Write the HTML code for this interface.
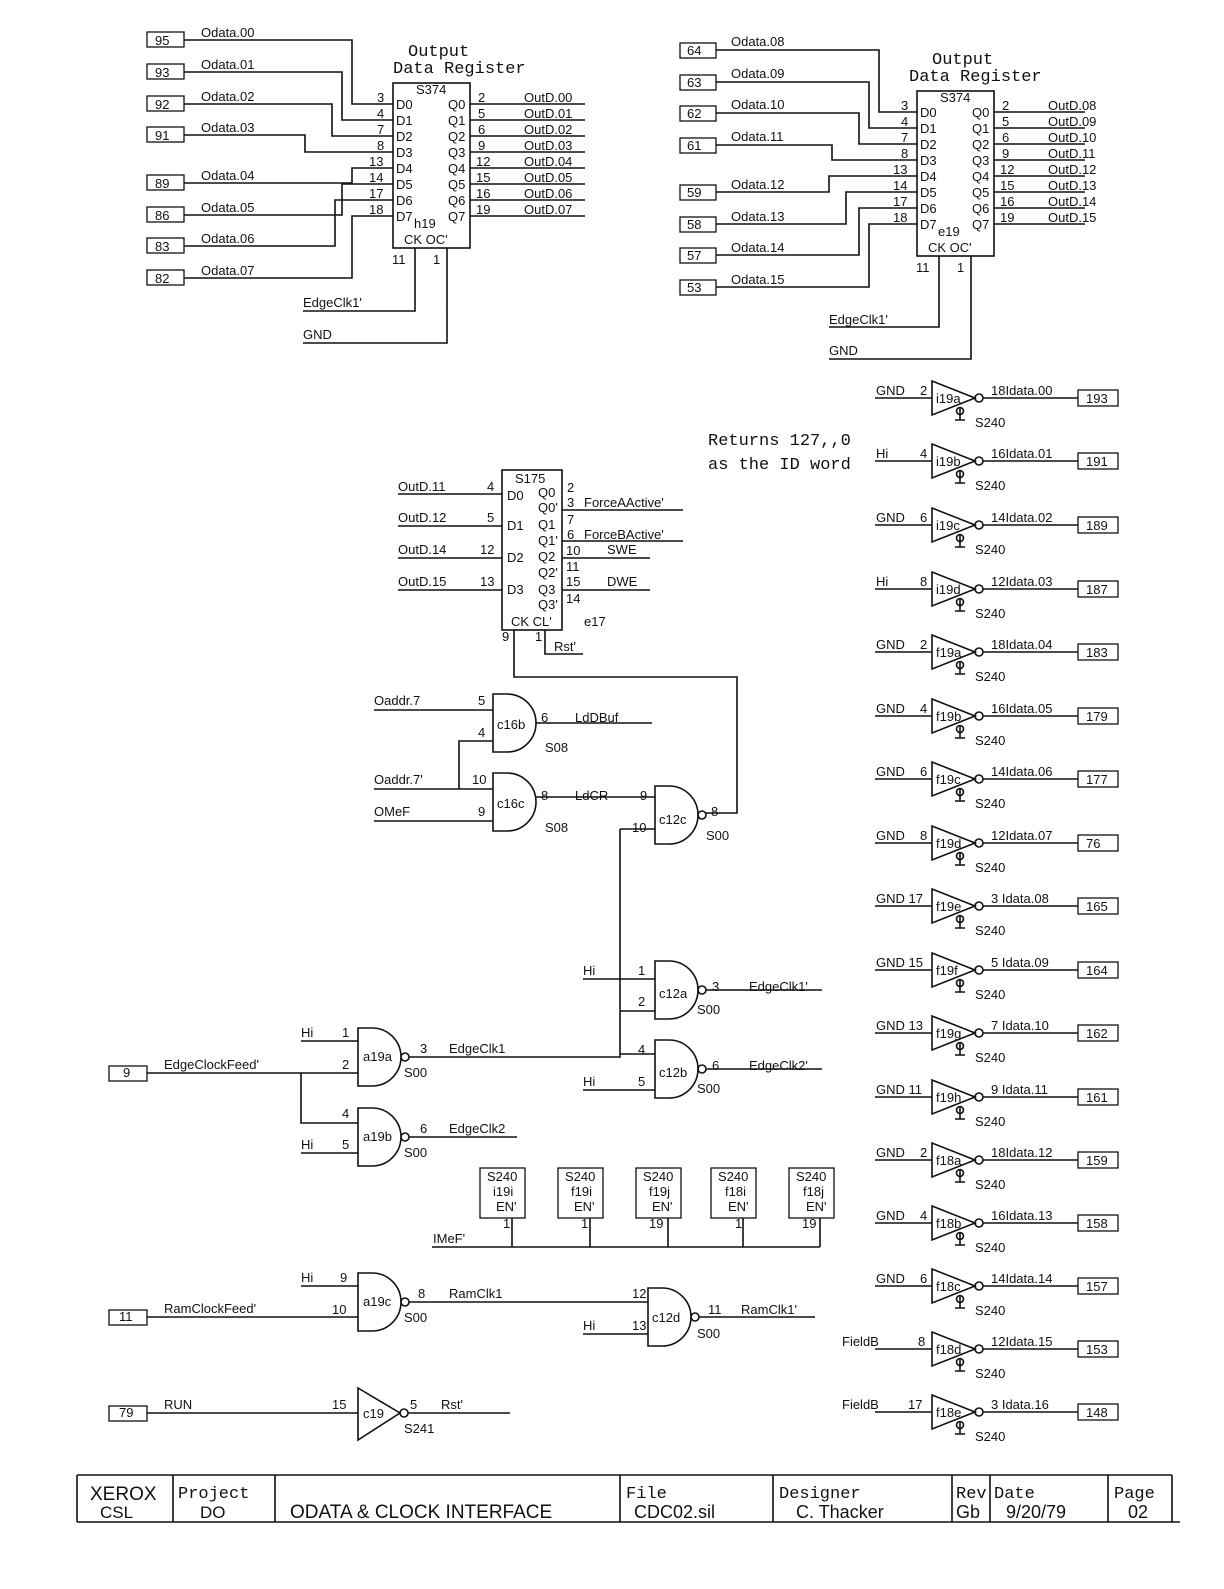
<!DOCTYPE html>
<html><head><meta charset="utf-8"><style>
body{margin:0;background:#fff}
svg text{font-family:"Liberation Sans",sans-serif;font-size:13px;fill:#111}
.m{font-family:"Liberation Mono",monospace;font-size:17px}
</style></head><body>
<svg width="1224" height="1584" viewBox="0 0 1224 1584" xmlns="http://www.w3.org/2000/svg" stroke="#111" stroke-width="1.6" fill="none">
<!-- top-left register -->
<g>
<text class="m" x="408" y="56" stroke="none">Output</text>
<text class="m" x="393" y="73" stroke="none">Data Register</text>
<rect x="393" y="83" width="77" height="165"/>
<text x="416" y="94" stroke="none">S374</text>
<g stroke="none">
<text x="396" y="109">D0</text><text x="396" y="125">D1</text><text x="396" y="141">D2</text><text x="396" y="157">D3</text><text x="396" y="173">D4</text><text x="396" y="189">D5</text><text x="396" y="205">D6</text><text x="396" y="221">D7</text>
<text x="448" y="109">Q0</text><text x="448" y="125">Q1</text><text x="448" y="141">Q2</text><text x="448" y="157">Q3</text><text x="448" y="173">Q4</text><text x="448" y="189">Q5</text><text x="448" y="205">Q6</text><text x="448" y="221">Q7</text>
<text x="414" y="228">h19</text><text x="404" y="244">CK  OC'</text>
<text x="377" y="102">3</text><text x="377" y="118">4</text><text x="377" y="134">7</text><text x="377" y="150">8</text><text x="369" y="166">13</text><text x="369" y="182">14</text><text x="369" y="198">17</text><text x="369" y="214">18</text>
<text x="478" y="102">2</text><text x="478" y="118">5</text><text x="478" y="134">6</text><text x="478" y="150">9</text><text x="476" y="166">12</text><text x="476" y="182">15</text><text x="476" y="198">16</text><text x="476" y="214">19</text>
<text x="524" y="102">OutD.00</text><text x="524" y="118">OutD.01</text><text x="524" y="134">OutD.02</text><text x="524" y="150">OutD.03</text><text x="524" y="166">OutD.04</text><text x="524" y="182">OutD.05</text><text x="524" y="198">OutD.06</text><text x="524" y="214">OutD.07</text>
<text x="392" y="264">11</text><text x="433" y="264">1</text>
<text x="303" y="307">EdgeClk1'</text><text x="303" y="339">GND</text>
</g>
<path d="M470 104H585M470 120H585M470 136H585M470 152H585M470 168H585M470 184H585M470 200H585M470 216H585"/>
<path d="M184 40H352V104H393M184 72H342V120H393M184 104H332V136H393M184 135H305V152H393M184 183H352V168H393M184 215H342V184H393M184 246H335V200H393M184 278H352V216H393"/>
<path d="M415 248V311H303M447 248V343H303"/>
<g stroke-width="1.3"><rect x="147" y="32" width="37" height="15"/><rect x="147" y="64" width="37" height="15"/><rect x="147" y="96" width="37" height="15"/><rect x="147" y="127" width="37" height="15"/><rect x="147" y="175" width="37" height="15"/><rect x="147" y="207" width="37" height="15"/><rect x="147" y="238" width="37" height="15"/><rect x="147" y="270" width="37" height="15"/></g>
<g stroke="none"><text x="155" y="45">95</text><text x="155" y="77">93</text><text x="155" y="109">92</text><text x="155" y="140">91</text><text x="155" y="188">89</text><text x="155" y="220">86</text><text x="155" y="251">83</text><text x="155" y="283">82</text>
<text x="201" y="37">Odata.00</text><text x="201" y="69">Odata.01</text><text x="201" y="101">Odata.02</text><text x="201" y="132">Odata.03</text><text x="201" y="180">Odata.04</text><text x="201" y="212">Odata.05</text><text x="201" y="243">Odata.06</text><text x="201" y="275">Odata.07</text></g>
</g>
<!-- top-right register -->
<g transform="translate(524,8)">
<text class="m" x="408" y="56" stroke="none">Output</text>
<text class="m" x="385" y="73" stroke="none">Data Register</text>
<rect x="393" y="83" width="77" height="165"/>
<g stroke="none">
<text x="416" y="94">S374</text>
<text x="396" y="109">D0</text><text x="396" y="125">D1</text><text x="396" y="141">D2</text><text x="396" y="157">D3</text><text x="396" y="173">D4</text><text x="396" y="189">D5</text><text x="396" y="205">D6</text><text x="396" y="221">D7</text>
<text x="448" y="109">Q0</text><text x="448" y="125">Q1</text><text x="448" y="141">Q2</text><text x="448" y="157">Q3</text><text x="448" y="173">Q4</text><text x="448" y="189">Q5</text><text x="448" y="205">Q6</text><text x="448" y="221">Q7</text>
<text x="414" y="228">e19</text><text x="404" y="244">CK  OC'</text>
<text x="377" y="102">3</text><text x="377" y="118">4</text><text x="377" y="134">7</text><text x="377" y="150">8</text><text x="369" y="166">13</text><text x="369" y="182">14</text><text x="369" y="198">17</text><text x="369" y="214">18</text>
<text x="478" y="102">2</text><text x="478" y="118">5</text><text x="478" y="134">6</text><text x="478" y="150">9</text><text x="476" y="166">12</text><text x="476" y="182">15</text><text x="476" y="198">16</text><text x="476" y="214">19</text>
<text x="524" y="102">OutD.08</text><text x="524" y="118">OutD.09</text><text x="524" y="134">OutD.10</text><text x="524" y="150">OutD.11</text><text x="524" y="166">OutD.12</text><text x="524" y="182">OutD.13</text><text x="524" y="198">OutD.14</text><text x="524" y="214">OutD.15</text>
<text x="392" y="264">11</text><text x="433" y="264">1</text>
<text x="305" y="316">EdgeClk1'</text><text x="305" y="347">GND</text>
<text x="163" y="47">64</text><text x="163" y="79">63</text><text x="163" y="110">62</text><text x="163" y="142">61</text><text x="163" y="189">59</text><text x="163" y="221">58</text><text x="163" y="252">57</text><text x="163" y="284">53</text>
<text x="207" y="38">Odata.08</text><text x="207" y="70">Odata.09</text><text x="207" y="101">Odata.10</text><text x="207" y="133">Odata.11</text><text x="207" y="181">Odata.12</text><text x="207" y="213">Odata.13</text><text x="207" y="244">Odata.14</text><text x="207" y="276">Odata.15</text>
</g>
<path d="M470 104H561M470 120H561M470 136H561M470 152H561M470 168H561M470 184H561M470 200H561M470 216H561"/>
<path d="M192 42H355V104H393M192 74H345V120H393M192 105H335V136H393M192 137H308V152H393M192 184H305V168H393M192 216H322V184H393M192 247H335V200H393M192 279H345V216H393"/>
<path d="M415 248V319H305M447 248V351H305"/>
<g stroke-width="1.3"><rect x="156" y="35" width="36" height="15"/><rect x="156" y="67" width="36" height="15"/><rect x="156" y="98" width="36" height="15"/><rect x="156" y="130" width="36" height="15"/><rect x="156" y="177" width="36" height="15"/><rect x="156" y="209" width="36" height="15"/><rect x="156" y="240" width="36" height="15"/><rect x="156" y="272" width="36" height="15"/></g>
</g>
<text class="m" x="708" y="445" stroke="none">Returns 127,,0</text>
<text class="m" x="708" y="469" stroke="none">as the ID word</text>
<!-- buffers -->
<defs>
<g id="buf">
<path d="M875 0H932M932 -17L975 0L932 17Z"/>
<circle cx="979" cy="0" r="4"/>
<path d="M983 0H1078"/>
<rect x="1078" y="-8" width="40" height="16" stroke-width="1.3"/>
<path d="M960 9V22M955 22H965"/>
<circle cx="960" cy="13" r="3.5"/>
</g>
</defs>
<g>
<use href="#buf" y="398"/><use href="#buf" y="461"/><use href="#buf" y="525"/><use href="#buf" y="589"/><use href="#buf" y="652"/><use href="#buf" y="716"/><use href="#buf" y="779"/><use href="#buf" y="843"/><use href="#buf" y="906"/><use href="#buf" y="970"/><use href="#buf" y="1033"/><use href="#buf" y="1097"/><use href="#buf" y="1160"/><use href="#buf" y="1223"/><use href="#buf" y="1286"/><use href="#buf" y="1349"/><use href="#buf" y="1412"/>
</g>
<g stroke="none">
<text x="876" y="395">GND</text><text x="920" y="395">2</text><text x="936" y="403">i19a</text><text x="991" y="395">18Idata.00</text><text x="1086" y="403">193</text><text x="975" y="427">S240</text>
<text x="876" y="458">Hi</text><text x="920" y="458">4</text><text x="936" y="466">i19b</text><text x="991" y="458">16Idata.01</text><text x="1086" y="466">191</text><text x="975" y="490">S240</text>
<text x="876" y="522">GND</text><text x="920" y="522">6</text><text x="936" y="530">i19c</text><text x="991" y="522">14Idata.02</text><text x="1086" y="530">189</text><text x="975" y="554">S240</text>
<text x="876" y="586">Hi</text><text x="920" y="586">8</text><text x="936" y="594">i19d</text><text x="991" y="586">12Idata.03</text><text x="1086" y="594">187</text><text x="975" y="618">S240</text>
<text x="876" y="649">GND</text><text x="920" y="649">2</text><text x="936" y="657">f19a</text><text x="991" y="649">18Idata.04</text><text x="1086" y="657">183</text><text x="975" y="681">S240</text>
<text x="876" y="713">GND</text><text x="920" y="713">4</text><text x="936" y="721">f19b</text><text x="991" y="713">16Idata.05</text><text x="1086" y="721">179</text><text x="975" y="745">S240</text>
<text x="876" y="776">GND</text><text x="920" y="776">6</text><text x="936" y="784">f19c</text><text x="991" y="776">14Idata.06</text><text x="1086" y="784">177</text><text x="975" y="808">S240</text>
<text x="876" y="840">GND</text><text x="920" y="840">8</text><text x="936" y="848">f19d</text><text x="991" y="840">12Idata.07</text><text x="1086" y="848">76</text><text x="975" y="872">S240</text>
<text x="876" y="903">GND 17</text><text x="936" y="911">f19e</text><text x="991" y="903">3  Idata.08</text><text x="1086" y="911">165</text><text x="975" y="935">S240</text>
<text x="876" y="967">GND 15</text><text x="936" y="975">f19f</text><text x="991" y="967">5  Idata.09</text><text x="1086" y="975">164</text><text x="975" y="999">S240</text>
<text x="876" y="1030">GND 13</text><text x="936" y="1038">f19g</text><text x="991" y="1030">7  Idata.10</text><text x="1086" y="1038">162</text><text x="975" y="1062">S240</text>
<text x="876" y="1094">GND 11</text><text x="936" y="1102">f19h</text><text x="991" y="1094">9  Idata.11</text><text x="1086" y="1102">161</text><text x="975" y="1126">S240</text>
<text x="876" y="1157">GND</text><text x="920" y="1157">2</text><text x="936" y="1165">f18a</text><text x="991" y="1157">18Idata.12</text><text x="1086" y="1165">159</text><text x="975" y="1189">S240</text>
<text x="876" y="1220">GND</text><text x="920" y="1220">4</text><text x="936" y="1228">f18b</text><text x="991" y="1220">16Idata.13</text><text x="1086" y="1228">158</text><text x="975" y="1252">S240</text>
<text x="876" y="1283">GND</text><text x="920" y="1283">6</text><text x="936" y="1291">f18c</text><text x="991" y="1283">14Idata.14</text><text x="1086" y="1291">157</text><text x="975" y="1315">S240</text>
<text x="842" y="1346">FieldB</text><text x="918" y="1346">8</text><text x="936" y="1354">f18d</text><text x="991" y="1346">12Idata.15</text><text x="1086" y="1354">153</text><text x="975" y="1378">S240</text>
<text x="842" y="1409">FieldB</text><text x="908" y="1409">17</text><text x="936" y="1417">f18e</text><text x="991" y="1409">3  Idata.16</text><text x="1086" y="1417">148</text><text x="975" y="1441">S240</text>
</g>
<!-- S175 -->
<rect x="502" y="470" width="60" height="160"/>
<g stroke="none">
<text x="515" y="483">S175</text>
<text x="507" y="500">D0</text><text x="538" y="497">Q0</text><text x="538" y="512">Q0'</text>
<text x="507" y="530">D1</text><text x="538" y="529">Q1</text><text x="538" y="545">Q1'</text>
<text x="507" y="562">D2</text><text x="538" y="561">Q2</text><text x="538" y="577">Q2'</text>
<text x="507" y="594">D3</text><text x="538" y="594">Q3</text><text x="538" y="609">Q3'</text>
<text x="511" y="626">CK CL'</text><text x="584" y="626">e17</text>
<text x="398" y="491">OutD.11</text><text x="487" y="491">4</text>
<text x="398" y="522">OutD.12</text><text x="487" y="522">5</text>
<text x="398" y="554">OutD.14</text><text x="480" y="554">12</text>
<text x="398" y="586">OutD.15</text><text x="480" y="586">13</text>
<text x="567" y="492">2</text><text x="567" y="507">3</text><text x="584" y="507">ForceAActive'</text>
<text x="567" y="524">7</text><text x="567" y="539">6</text><text x="584" y="539">ForceBActive'</text>
<text x="566" y="555">10</text><text x="607" y="554">SWE</text>
<text x="566" y="571">11</text><text x="566" y="586">15</text><text x="607" y="586">DWE</text><text x="566" y="603">14</text>
<text x="502" y="641">9</text><text x="535" y="641">1</text><text x="554" y="651">Rst'</text>
</g>
<path d="M398 494H502M398 526H502M398 558H502M398 590H502M562 510H683M562 541H683M562 558H650M562 590H650"/>
<path d="M514 630V677H737V813H706M545 630V654H583"/>
<!-- gates -->
<defs>
<path id="and" d="M0 0H14A29 29 0 0 1 14 58H0Z"/>
</defs>
<use href="#and" x="493" y="694"/><use href="#and" x="493" y="773"/>
<use href="#and" x="655" y="786"/><circle cx="702" cy="815" r="4"/>
<use href="#and" x="655" y="961"/><circle cx="702" cy="990" r="4"/>
<use href="#and" x="655" y="1040"/><circle cx="702" cy="1069" r="4"/>
<use href="#and" x="358" y="1028"/><circle cx="405" cy="1057" r="4"/>
<use href="#and" x="358" y="1108"/><circle cx="405" cy="1137" r="4"/>
<use href="#and" x="358" y="1273"/><circle cx="405" cy="1302" r="4"/>
<use href="#and" x="648" y="1288"/><circle cx="695" cy="1317" r="4"/>
<path d="M358 1388L400 1413L358 1440Z"/><circle cx="404" cy="1413" r="4"/>
<g stroke="none">
<text x="497" y="729">c16b</text><text x="541" y="722">6</text><text x="575" y="722">LdDBuf</text><text x="545" y="752">S08</text>
<text x="374" y="705">Oaddr.7</text><text x="478" y="705">5</text><text x="478" y="737">4</text>
<text x="497" y="808">c16c</text><text x="541" y="800">8</text><text x="575" y="800">LdCR</text><text x="545" y="832">S08</text>
<text x="374" y="784">Oaddr.7'</text><text x="472" y="784">10</text><text x="374" y="816">OMeF</text><text x="478" y="816">9</text>
<text x="659" y="824">c12c</text><text x="640" y="800">9</text><text x="632" y="832">10</text><text x="711" y="816">8</text><text x="706" y="840">S00</text>
<text x="659" y="998">c12a</text><text x="583" y="975">Hi</text><text x="638" y="975">1</text><text x="638" y="1006">2</text><text x="712" y="991">3</text><text x="749" y="991">EdgeClk1'</text><text x="697" y="1014">S00</text>
<text x="659" y="1077">c12b</text><text x="638" y="1054">4</text><text x="583" y="1086">Hi</text><text x="638" y="1086">5</text><text x="712" y="1070">6</text><text x="749" y="1070">EdgeClk2'</text><text x="697" y="1093">S00</text>
<text x="363" y="1061">a19a</text><text x="301" y="1037">Hi</text><text x="342" y="1037">1</text><text x="342" y="1069">2</text><text x="420" y="1053">3</text><text x="449" y="1053">EdgeClk1</text><text x="404" y="1077">S00</text>
<text x="164" y="1069">EdgeClockFeed'</text><text x="123" y="1077">9</text>
<text x="363" y="1141">a19b</text><text x="342" y="1118">4</text><text x="301" y="1149">Hi</text><text x="342" y="1149">5</text><text x="420" y="1133">6</text><text x="449" y="1133">EdgeClk2</text><text x="404" y="1157">S00</text>
<text x="363" y="1306">a19c</text><text x="301" y="1282">Hi</text><text x="340" y="1282">9</text><text x="332" y="1314">10</text><text x="418" y="1298">8</text><text x="449" y="1298">RamClk1</text><text x="404" y="1322">S00</text>
<text x="164" y="1313">RamClockFeed'</text><text x="119" y="1321">11</text>
<text x="652" y="1322">c12d</text><text x="632" y="1298">12</text><text x="583" y="1330">Hi</text><text x="632" y="1330">13</text><text x="708" y="1314">11</text><text x="741" y="1314">RamClk1'</text><text x="697" y="1338">S00</text>
<text x="164" y="1409">RUN</text><text x="119" y="1417">79</text><text x="332" y="1409">15</text><text x="363" y="1418">c19</text><text x="410" y="1409">5</text><text x="441" y="1409">Rst'</text><text x="404" y="1433">S241</text>
<text x="433" y="1243">IMeF'</text>
</g>
<path d="M374 710H493M374 789H493M374 821H493M459 789V741H493M536 723H652M536 797H655M620 829H655M620 829V1057H409M583 979H655M620 1011H655M620 1054H655M583 1090H655M706 990H822M706 1069H822"/>
<path d="M301 1041H358M147 1073H358M301 1073V1123H358M301 1153H358M409 1137H517M147 1317H358M301 1286H358M409 1302H648M583 1334H648M699 1317H815M147 1413H358M408 1413H510"/>
<g stroke-width="1.3"><rect x="109" y="1066" width="38" height="15"/><rect x="109" y="1310" width="38" height="15"/><rect x="109" y="1406" width="38" height="15"/></g>
<!-- S240 enable boxes -->
<g stroke-width="1.3">
<rect x="480" y="1168" width="45" height="50"/><rect x="558" y="1168" width="45" height="50"/><rect x="636" y="1168" width="45" height="50"/><rect x="711" y="1168" width="45" height="50"/><rect x="789" y="1168" width="45" height="50"/>
</g>
<path d="M432 1247H820M512 1218V1247M590 1218V1247M668 1218V1247M743 1218V1247M820 1218V1247"/>
<g stroke="none">
<text x="487" y="1181">S240</text><text x="493" y="1196">i19i</text><text x="496" y="1211">EN'</text><text x="503" y="1228">1</text>
<text x="565" y="1181">S240</text><text x="571" y="1196">f19i</text><text x="574" y="1211">EN'</text><text x="581" y="1228">1</text>
<text x="643" y="1181">S240</text><text x="649" y="1196">f19j</text><text x="652" y="1211">EN'</text><text x="649" y="1228">19</text>
<text x="718" y="1181">S240</text><text x="725" y="1196">f18i</text><text x="728" y="1211">EN'</text><text x="735" y="1228">1</text>
<text x="796" y="1181">S240</text><text x="803" y="1196">f18j</text><text x="806" y="1211">EN'</text><text x="802" y="1228">19</text>
</g>
<!-- title block -->
<path d="M77 1475H1172M77 1475V1522M173 1475V1522M275 1475V1522M620 1475V1522M773 1475V1522M952 1475V1522M990 1475V1522M1108 1475V1522M1172 1475V1522M77 1522H1180"/>
<g stroke="none" style="font-size:19px">
<text x="90" y="1500" style="font-size:19px">XEROX</text><text x="100" y="1518" style="font-size:17px">CSL</text>
<text class="m" x="178" y="1498">Project</text><text x="200" y="1518" style="font-size:17px">DO</text>
<text x="290" y="1518" style="font-size:19px">ODATA &amp; CLOCK INTERFACE</text>
<text class="m" x="626" y="1498">File</text><text x="634" y="1518" style="font-size:18px">CDC02.sil</text>
<text class="m" x="779" y="1498">Designer</text><text x="796" y="1518" style="font-size:18px">C. Thacker</text>
<text class="m" x="956" y="1498">Rev</text><text x="956" y="1518" style="font-size:18px">Gb</text>
<text class="m" x="994" y="1498">Date</text><text x="1006" y="1518" style="font-size:18px">9/20/79</text>
<text class="m" x="1114" y="1498">Page</text><text x="1128" y="1518" style="font-size:18px">02</text>
</g>
</svg>
</body></html>
